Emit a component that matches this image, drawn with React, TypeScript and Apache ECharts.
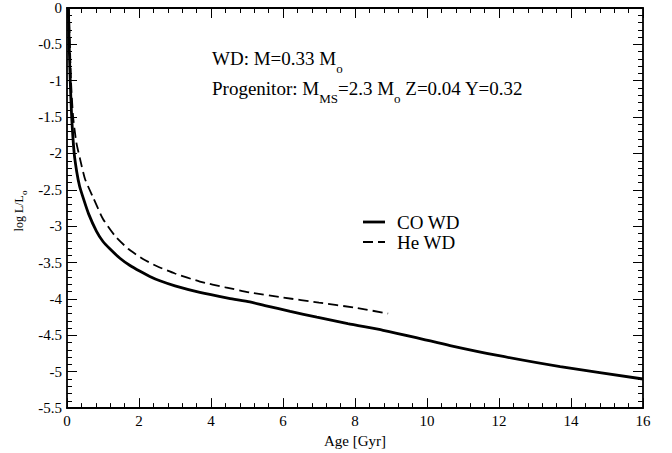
import React, { useEffect, useRef } from "react";
import * as echarts from "echarts";

// ---- data ----
const ageCO = [0.04, 0.06, 0.09, 0.13, 0.2, 0.27, 0.35, 0.45, 0.6, 0.82, 1.0, 1.19, 1.47, 1.75, 2.03, 2.3, 2.58, 3.0, 3.69, 4.5, 5.08, 5.5, 6.2, 6.94, 7.8, 8.78, 9.7, 10.64, 12.0, 13.7, 16.0];
const logLCO = [0, -0.5, -1.0, -1.5, -2.0, -2.25, -2.45, -2.61, -2.83, -3.07, -3.21, -3.31, -3.44, -3.54, -3.62, -3.69, -3.75, -3.82, -3.91, -3.99, -4.04, -4.09, -4.17, -4.25, -4.34, -4.43, -4.53, -4.64, -4.78, -4.93, -5.1];
const ageHe = [0.05, 0.08, 0.11, 0.17, 0.26, 0.36, 0.5, 0.73, 1.0, 1.33, 1.7, 2.11, 2.5, 3.0, 3.69, 4.4, 5.08, 6.0, 7.0, 8.0, 8.92];
const logLHe = [0, -0.5, -1.0, -1.5, -1.85, -2.07, -2.35, -2.61, -2.9, -3.13, -3.31, -3.45, -3.55, -3.65, -3.76, -3.84, -3.91, -3.98, -4.05, -4.12, -4.2];
const seriesNames = ["CO WD", "He WD"];
const xRange = [0, 16];
const xStep = 2;
const yRange = [-5.5, 0];
const yStep = 0.5;

const FONT = "Liberation Serif";

type Seg = { t: string; sub?: boolean };

let mctx: CanvasRenderingContext2D | null = null;
function measure(t: string, size: number): number {
  if (!mctx) mctx = document.createElement("canvas").getContext("2d");
  if (!mctx) return t.length * size * 0.5;
  mctx.font = `${size}px "Liberation Serif"`;
  return mctx.measureText(t).width;
}

function textEl(t: string, x: number, y: number, size: number) {
  return {
    type: "text",
    style: {
      text: t, x, y, fill: "#000", fontSize: size, fontFamily: FONT,
      align: "left", textAlign: "left", verticalAlign: "middle", textVerticalAlign: "middle",
    },
  };
}

function buildLine(segs: Seg[], size: number, subSize: number, subDy: number, x0: number, y0: number) {
  const out: any[] = [];
  let x = x0;
  for (const s of segs) {
    const sz = s.sub ? subSize : size;
    out.push(textEl(s.t, x, s.sub ? y0 + subDy : y0, sz));
    x += measure(s.t, sz);
  }
  return { children: out, width: x - x0 };
}

function baseAxis(extra: any) {
  return {
    type: "value",
    axisLine: { show: true, onZero: false, lineStyle: { color: "#000", width: 1.8 } },
    axisTick: { show: true, inside: true, length: 10, lineStyle: { color: "#000", width: 1 } },
    minorTick: { show: true, splitNumber: 5, length: 5, lineStyle: { color: "#000", width: 1 } },
    splitLine: { show: false },
    minorSplitLine: { show: false },
    ...extra,
  };
}

export default function App() {
  const ref = useRef<HTMLDivElement>(null);
  useEffect(() => {
    if (!ref.current) return;
    const chart = echarts.init(ref.current, null, { renderer: "svg" });

    const l1 = buildLine([{ t: "WD: M=0.33 M" }, { t: "o", sub: true }], 19, 13, 10, 212, 58);
    const l2 = buildLine(
      [{ t: "Progenitor: M" }, { t: "MS", sub: true }, { t: "=2.3 M" }, { t: "o", sub: true }, { t: " Z=0.04 Y=0.32" }],
      19, 13, 10, 212, 88
    );
    const yl0 = buildLine([{ t: "log L/L" }, { t: "o", sub: true }], 12, 9, 5, 0, 0);
    const yl = buildLine([{ t: "log L/L" }, { t: "o", sub: true }], 12, 9, 5, -yl0.width / 2, 0);

    const labelStyle = { color: "#000", fontSize: 15, fontFamily: FONT };

    chart.setOption({
      animation: false,
      textStyle: { fontFamily: FONT },
      grid: { left: 67, right: 29, top: 8, bottom: 41, containLabel: false },
      xAxis: [
        baseAxis({
          min: xRange[0], max: xRange[1], interval: xStep, position: "bottom",
          axisLabel: { ...labelStyle, margin: 5 },
          name: "Age [Gyr]", nameLocation: "middle", nameGap: 21,
          nameTextStyle: { color: "#000", fontSize: 15, fontFamily: FONT },
        }),
        baseAxis({
          min: xRange[0], max: xRange[1], interval: xStep, position: "top",
          axisLabel: { show: false },
        }),
      ],
      yAxis: [
        baseAxis({
          min: yRange[0], max: yRange[1], interval: yStep, position: "left",
          axisLabel: { ...labelStyle, margin: 5 },
        }),
        baseAxis({
          min: yRange[0], max: yRange[1], interval: yStep, position: "right",
          axisLabel: { show: false },
        }),
      ],
      series: [
        {
          name: seriesNames[0], type: "line", xAxisIndex: 0, yAxisIndex: 0,
          data: ageCO.map((a, i) => [a, logLCO[i]]),
          showSymbol: false, smooth: 0.2,
          lineStyle: { color: "#000", width: 2.8 },
        },
        {
          name: seriesNames[1], type: "line", xAxisIndex: 0, yAxisIndex: 0,
          data: ageHe.map((a, i) => [a, logLHe[i]]),
          showSymbol: false, smooth: 0.2,
          lineStyle: { color: "#000", width: 1.8, type: [10, 5] },
        },
      ],
      graphic: [
        { type: "group", children: l1.children },
        { type: "group", children: l2.children },
        { type: "group", x: 19, y: 211, rotation: Math.PI / 2, children: yl.children },
        { type: "line", shape: { x1: 363, y1: 222, x2: 385, y2: 222 }, style: { stroke: "#000", lineWidth: 2.8 } },
        textEl(seriesNames[0], 397, 222, 19),
        { type: "line", shape: { x1: 363, y1: 242, x2: 385, y2: 242 }, style: { stroke: "#000", lineWidth: 1.8, lineDash: [10, 5] } },
        textEl(seriesNames[1], 397, 242, 19),
      ],
    });
    return () => chart.dispose();
  }, []);
  return (
    <div
      ref={ref}
      style={{ position: "fixed", left: 0, top: 0, width: 672, height: 453, background: "#fff" }}
    />
  );
}
